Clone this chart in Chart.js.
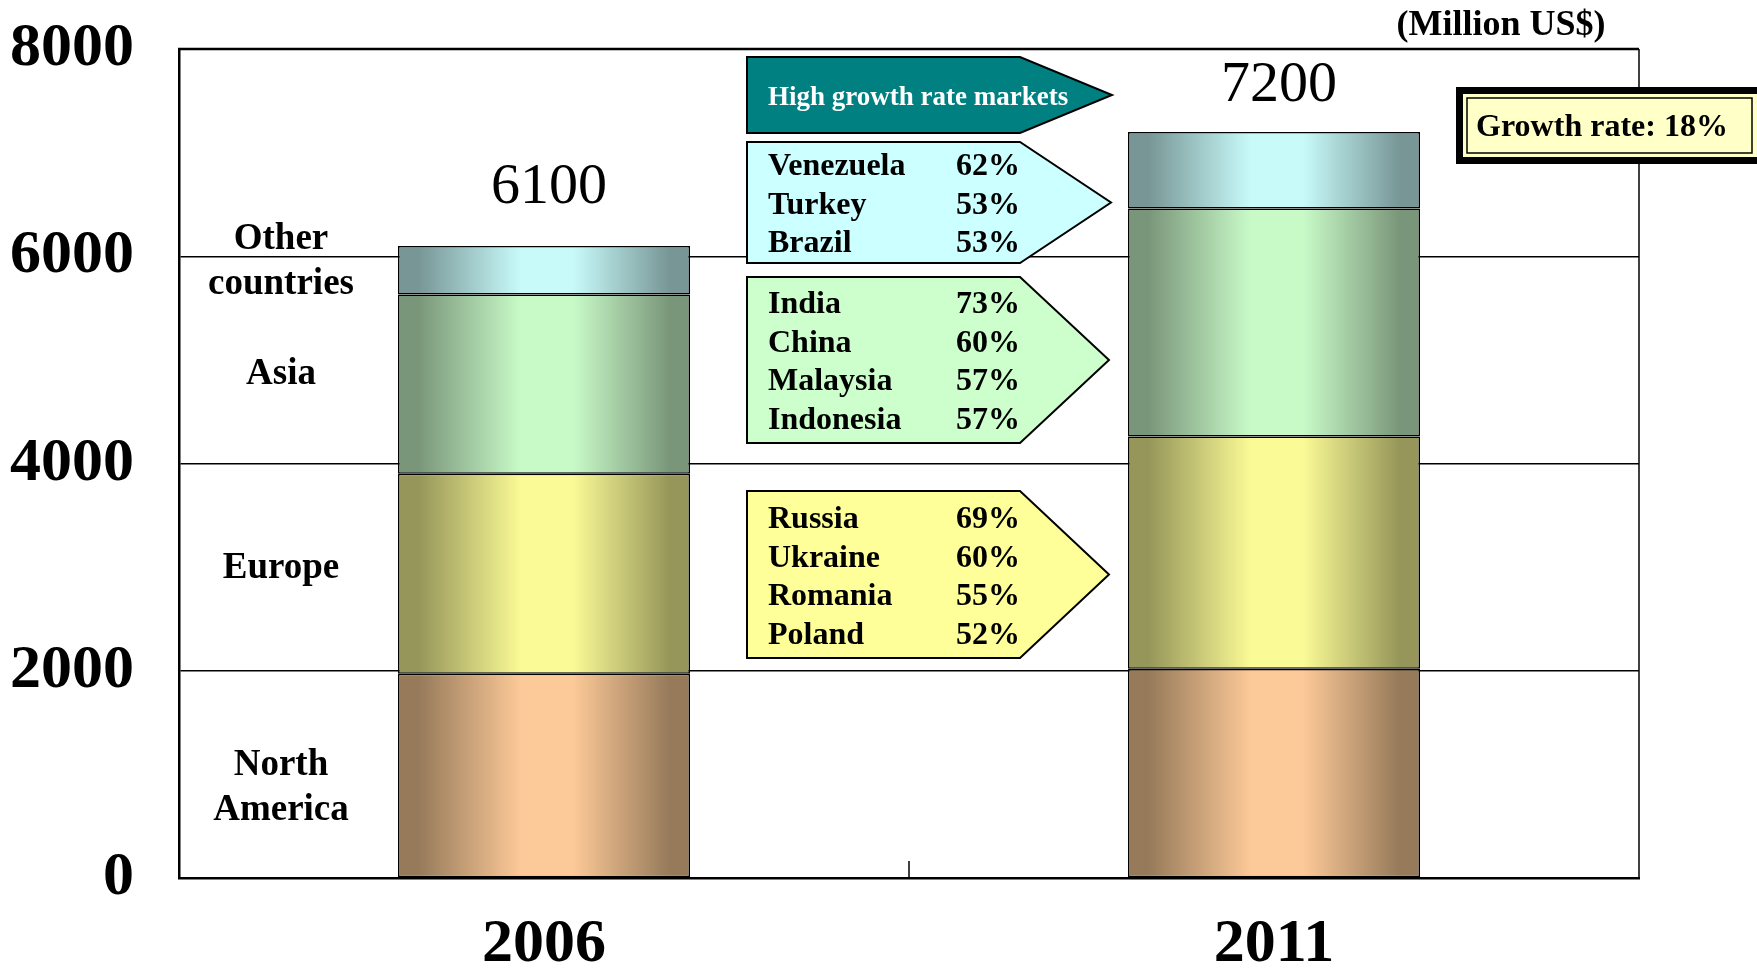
<!DOCTYPE html>
<html><head><meta charset="utf-8">
<script src="https://cdn.jsdelivr.net/npm/chart.js@4/dist/chart.umd.min.js"></script>
<style>html,body{margin:0;padding:0;background:#fff;overflow:hidden}#wrap{width:1757px;height:971px;position:relative}</style>
</head><body><div id="wrap"><canvas id="c" width="1757" height="971"></canvas></div>
<script>
const years = ['2006', '2011'];
const northAmerica = [1970, 2020];
const europe = [1930, 2240];
const asia = [1730, 2200];
const otherCountries = [470, 740];
const totals = ['6100', '7200'];
const yTicks = [0, 2000, 4000, 6000, 8000];
const regionLabels = [['North', 'America'], ['Europe'], ['Asia'], ['Other', 'countries']];
const headerText = 'High growth rate markets';
const otherMarkets = [['Venezuela', '62%'], ['Turkey', '53%'], ['Brazil', '53%']];
const asiaMarkets = [['India', '73%'], ['China', '60%'], ['Malaysia', '57%'], ['Indonesia', '57%']];
const europeMarkets = [['Russia', '69%'], ['Ukraine', '60%'], ['Romania', '55%'], ['Poland', '52%']];
const growthText = 'Growth rate: 18%';
const unitText = '(Million US$)';

const SERIF = '"Liberation Serif", "Times New Roman", serif';
const BAR_PCT = 0.4;

function grad(dark, light) {
  return (ctx) => {
    const chart = ctx.chart;
    const xs = chart.scales && chart.scales.x;
    if (!chart.chartArea || !xs || ctx.dataIndex === undefined) return light;
    const cx = xs.getPixelForValue(ctx.dataIndex);
    const w = (xs.width / years.length) * BAR_PCT;
    const g = chart.ctx.createLinearGradient(cx - w / 2, 0, cx + w / 2, 0);
    g.addColorStop(0, dark);
    g.addColorStop(0.07, dark);
    g.addColorStop(0.42, light);
    g.addColorStop(0.6, light);
    g.addColorStop(0.93, dark);
    g.addColorStop(1, dark);
    return g;
  };
}

function ds(label, data, dark, light) {
  return {
    label, data,
    backgroundColor: grad(dark, light),
    borderColor: '#000', borderWidth: 1.5, borderSkipped: false,
    barPercentage: BAR_PCT, categoryPercentage: 1
  };
}

function arrowBox(ctx, x, y, w, h, bodyW, fill) {
  ctx.beginPath();
  ctx.moveTo(x, y);
  ctx.lineTo(x + bodyW, y);
  ctx.lineTo(x + w, y + h / 2);
  ctx.lineTo(x + bodyW, y + h);
  ctx.lineTo(x, y + h);
  ctx.closePath();
  ctx.fillStyle = fill;
  ctx.fill();
  ctx.lineWidth = 2;
  ctx.strokeStyle = '#000';
  ctx.stroke();
}

function marketLines(ctx, rows, firstBase) {
  ctx.font = 'bold 32px ' + SERIF;
  ctx.fillStyle = '#000';
  ctx.textBaseline = 'alphabetic';
  rows.forEach((r, i) => {
    const yb = firstBase + i * 38.5;
    ctx.textAlign = 'left';
    ctx.fillText(r[0], 768, yb);
    ctx.textAlign = 'right';
    ctx.fillText(r[1], 1020, yb);
  });
}

const annot = {
  id: 'annot',
  afterDraw(chart) {
    const ctx = chart.ctx;
    const a = chart.chartArea;
    const xs = chart.scales.x, ys = chart.scales.y;
    ctx.save();
    // frame top & right
    ctx.strokeStyle = '#000';
    ctx.lineWidth = 2.5;
    ctx.beginPath(); ctx.moveTo(a.left - 1, a.top); ctx.lineTo(a.right, a.top); ctx.stroke();
    ctx.lineWidth = 1.5;
    ctx.beginPath(); ctx.moveTo(a.right, a.top); ctx.lineTo(a.right, a.bottom + 1); ctx.stroke();
    // middle category tick (inward)
    const mid = (xs.getPixelForValue(0) + xs.getPixelForValue(1)) / 2;
    ctx.beginPath(); ctx.moveTo(mid, a.bottom); ctx.lineTo(mid, a.bottom - 17); ctx.stroke();

    // totals
    ctx.fillStyle = '#000';
    ctx.font = '58px ' + SERIF;
    ctx.textAlign = 'center';
    ctx.textBaseline = 'middle';
    const totalShift = [-58, -46];
    totals.forEach((t, i) => {
      const sum = northAmerica[i] + europe[i] + asia[i] + otherCountries[i];
      ctx.fillText(t, xs.getPixelForValue(i) + 5, ys.getPixelForValue(sum) + totalShift[i]);
    });

    // region labels (left), near middle of 2006 segments
    const series = [northAmerica, europe, asia, otherCountries];
    const shifts = [12, -5, -10, -8];
    ctx.font = 'bold 37px ' + SERIF;
    let base = 0;
    series.forEach((s, k) => {
      const midV = base + s[0] / 2;
      base += s[0];
      const lines = regionLabels[k];
      const cy = ys.getPixelForValue(midV) + shifts[k];
      const lh = 45;
      lines.forEach((ln, j) => {
        ctx.fillText(ln, a.left + 102, cy + (j - (lines.length - 1) / 2) * lh);
      });
    });

    // unit text
    ctx.font = 'bold 36px ' + SERIF;
    ctx.fillText(unitText, 1501, 26);

    // arrow boxes
    arrowBox(ctx, 747, 57, 365, 76, 273, '#008080');
    ctx.font = 'bold 27px ' + SERIF;
    ctx.fillStyle = '#fff';
    ctx.textAlign = 'left';
    ctx.textBaseline = 'alphabetic';
    ctx.fillText(headerText, 768, 105);

    arrowBox(ctx, 747, 142, 364, 121, 273, '#ccffff');
    marketLines(ctx, otherMarkets, 175);
    arrowBox(ctx, 747, 277, 362, 166, 273, '#ccffcc');
    marketLines(ctx, asiaMarkets, 313);
    arrowBox(ctx, 747, 491, 362, 167, 273, '#ffff99');
    marketLines(ctx, europeMarkets, 528);

    // growth box
    ctx.fillStyle = '#000';
    ctx.fillRect(1456, 87, 320, 77);
    ctx.fillStyle = '#ffffc8';
    ctx.fillRect(1463, 94, 300, 63);
    ctx.strokeStyle = '#000';
    ctx.lineWidth = 1.5;
    ctx.strokeRect(1467, 98, 285, 55);
    ctx.fillStyle = '#000';
    ctx.font = 'bold 32px ' + SERIF;
    ctx.textAlign = 'center';
    ctx.textBaseline = 'middle';
    ctx.fillText(growthText, 1602, 128);
    ctx.restore();
  }
};

new Chart(document.getElementById('c'), {
  type: 'bar',
  data: {
    labels: years,
    datasets: [
      ds('North America', northAmerica, '#967a5a', '#fcc998'),
      ds('Europe', europe, '#96965a', '#fafa96'),
      ds('Asia', asia, '#7a967a', '#c8fac8'),
      ds('Other countries', otherCountries, '#789696', '#c8fafa')
    ]
  },
  options: {
    responsive: false,
    animation: false,
    layout: { padding: { top: 49, right: 118, left: 0, bottom: 0 } },
    plugins: { legend: { display: false }, tooltip: { enabled: false } },
    scales: {
      x: {
        stacked: true,
        grid: { display: false, drawTicks: false },
        border: { display: true, color: '#000', width: 2.5 },
        ticks: { font: { family: SERIF, size: 62, weight: 'bold' }, color: '#000', padding: 30 },
        afterFit(s) { s.height = 93; s.paddingLeft = 0; s.paddingRight = 0; }
      },
      y: {
        stacked: true, min: 0, max: 8000,
        afterBuildTicks(s) { s.ticks = yTicks.map(v => ({ value: v })); },
        grid: { color: '#000', lineWidth: 1.5, drawTicks: false },
        border: { display: true, color: '#000', width: 2.5 },
        ticks: {
          font: { family: SERIF, size: 62, weight: 'bold' }, color: '#000', padding: 45,
          callback: (v) => String(v)
        },
        afterFit(s) { s.width = 179; s.paddingTop = 0; s.paddingBottom = 0; }
      }
    }
  },
  plugins: [annot]
});
</script>
</body></html>
